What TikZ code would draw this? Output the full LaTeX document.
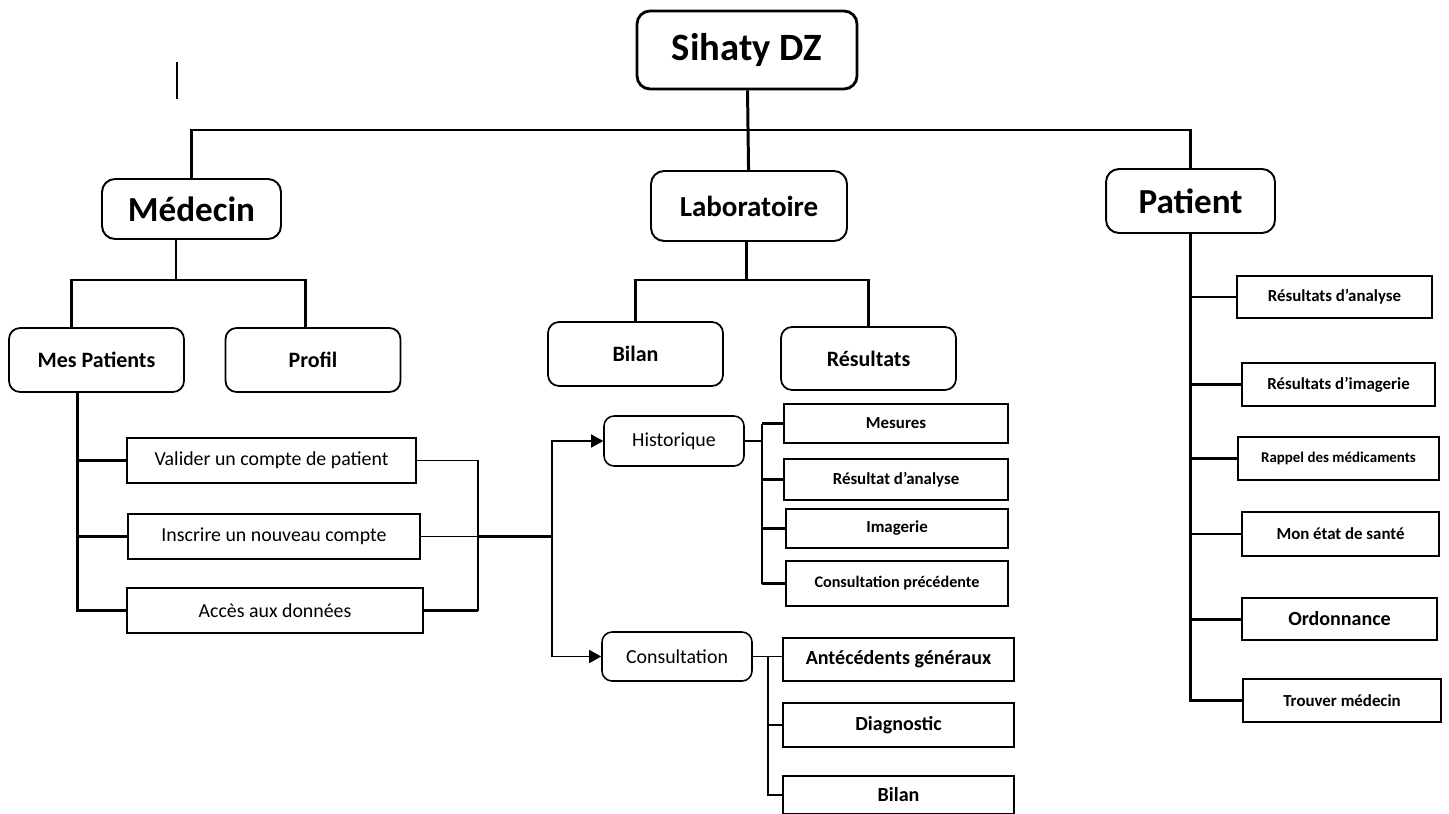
\documentclass[tikz,border=0pt]{standalone}
\usepackage{fontspec}
\setmainfont{Carlito}
\usetikzlibrary{positioning,arrows.meta}

\begin{document}
\begin{tikzpicture}[x=0.02cm,y=-0.02cm,
      root/.style={draw,line width=1.6pt,rounded corners=0.26cm,inner sep=0pt,font=\bfseries\fontsize{22}{26}\selectfont},
      role/.style={draw,line width=1.1pt,rounded corners=0.26cm,inner sep=0pt,font=\bfseries\fontsize{20}{24}\selectfont},
      menu/.style={draw,line width=1pt,rounded corners=0.22cm,inner sep=0pt,minimum width=3.5cm,minimum height=1.28cm,font=\bfseries\fontsize{12.5}{15}\selectfont},
      item/.style={draw,line width=0.9pt,inner sep=0pt,font=\fontsize{11.3}{13}\selectfont},
      sub/.style={draw,line width=1pt,inner sep=0pt,font=\bfseries\fontsize{9.6}{11}\selectfont},
      trunk/.style={line width=1.7pt},
      wire/.style={line width=0.8pt}]
      \useasboundingbox (0,0) rectangle (1449,814);
      % top levels
      \node[root,minimum width=4.4cm,minimum height=1.56cm] (top) at (747,50) {Sihaty DZ};
      \node[role,minimum width=3.58cm,minimum height=1.2cm] (med) at (191.5,209) {Médecin};
      \node[role,minimum width=3.92cm,minimum height=1.4cm,font=\bfseries\fontsize{16.5}{20}\selectfont] (lab) at (749,206) {Laboratoire};
      \node[role,minimum width=3.38cm,minimum height=1.28cm] (pat) at (1190.5,201) {Patient};
      \node[menu] (mesp) at (96.5,360) {Mes Patients};
      \node[menu] (prof) at (313,360) {Profil};
      \node[menu] (bil) at (635.5,354) {Bilan};
      \node[menu,minimum height=1.26cm] (res) at (868.5,358.5) {Résultats};
      % medecin
      \node[item,minimum width=5.78cm,minimum height=0.9cm] (val) at (271.5,460.5) {Valider un compte de patient};
      \node[item,minimum width=5.84cm,minimum height=0.9cm] (ins) at (274,536.5) {Inscrire un nouveau compte};
      \node[item,minimum width=5.92cm,minimum height=0.9cm] (acc) at (275,610.5) {Accès aux données};
      \node[item,rounded corners=0.2cm,minimum width=2.8cm,minimum height=1cm] (his) at (674,441) {Historique};
      \node[item,rounded corners=0.2cm,minimum width=3cm,minimum height=0.98cm] (cons) at (677,656.5) {Consultation};
      \node[sub,minimum width=4.48cm,minimum height=0.78cm] (mes) at (896,423.5) {Mesures};
      \node[sub,minimum width=4.48cm,minimum height=0.82cm] (rda) at (896,479.5) {Résultat d’analyse};
      \node[sub,minimum width=4.44cm,minimum height=0.78cm] (img) at (897,528.5) {Imagerie};
      \node[sub,minimum width=4.44cm,minimum height=0.9cm,font=\bfseries\fontsize{9.2}{11}\selectfont] (cpr) at (897,583.5) {Consultation précédente};
      \node[sub,minimum width=4.62cm,minimum height=0.86cm,font=\bfseries\fontsize{11.4}{14}\selectfont] (ant) at (898.5,659.5) {Antécédents généraux};
      \node[sub,minimum width=4.62cm,minimum height=0.88cm,font=\bfseries\fontsize{11.4}{14}\selectfont] (dia) at (898.5,725) {Diagnostic};
      \node[sub,minimum width=4.62cm,minimum height=0.76cm,font=\bfseries\fontsize{11.4}{14}\selectfont] (cbil) at (898.5,795) {Bilan};
      % patient
      \node[sub,minimum width=3.9cm,minimum height=0.84cm] (pra) at (1334.5,297) {Résultats d’analyse};
      \node[sub,minimum width=3.86cm,minimum height=0.86cm] (pri) at (1338.5,384.5) {Résultats d’imagerie};
      \node[sub,minimum width=4.02cm,minimum height=0.86cm,font=\bfseries\fontsize{8.5}{10}\selectfont] (prm) at (1338.5,458.5) {Rappel des médicaments};
      \node[sub,minimum width=3.94cm,minimum height=0.88cm] (pet) at (1340.5,534) {Mon état de santé};
      \node[sub,minimum width=3.9cm,minimum height=0.84cm,font=\bfseries\fontsize{11.4}{14}\selectfont] (pord) at (1339.5,619) {Ordonnance};
      \node[sub,minimum width=3.96cm,minimum height=0.86cm] (ptm) at (1342,700.5) {Trouver médecin};
      \draw[line width=1.3pt] (177,62) -- (177,99);
      % connectors
      \coordinate (bar) at (745,130);
      \coordinate (mbar) at (176,280);
      \coordinate (lbar) at (746,280);
      \coordinate (mpt) at (77.5,392);
      \coordinate (brk) at (478,536.5);
      \coordinate (join) at (552,536.5);
      \coordinate (hj) at (762,441);
      \coordinate (cj) at (768,656.5);
      \draw[trunk] (top) -- (lab);
      \draw[trunk] (med.north) |- (bar) -| (pat.north);
      \draw[trunk] (med.south -| mbar) -- (mbar);
      \draw[trunk] ([xshift=-0.5cm]mesp.north) |- (mbar) -| ([xshift=-0.16cm]prof.north);
      \draw[trunk] (lab.south -| lbar) -- (lbar);
      \draw[trunk] (bil.north) |- (lbar) -| (res.north);
      \draw[trunk] (mpt) |- (acc.west);
      \foreach \n in {val,ins} \draw[trunk] (\n.west -| mpt) -- (\n.west);
      \draw[wire] (val.east) -| (brk |- acc.east);
      \draw[wire] (ins.east) -- (brk);
      \draw[trunk] (brk) -- (join);
      \draw[trunk] (acc.east) -- (acc.east -| brk);
      \draw[wire,-{Triangle[length=0.24cm,width=0.26cm]}] (join) |- (his.west);
      \draw[wire,-{Triangle[length=0.24cm,width=0.26cm]}] (join) |- (cons.west);
      \draw[wire] (his.east) -- (hj);
      \draw[wire,line width=1.1pt] (hj |- mes.west) -- (hj |- cpr.west);
      \foreach \n in {mes,rda,img,cpr} \draw[trunk] (hj |- \n.west) -- (\n.west);
      \draw[wire] (cons.east) -- (cons.east -| ant.west);
      \draw[wire] (cj) |- (cbil.west);
      \draw[wire] (dia.west -| cj) -- (dia.west);
      \draw[trunk] (pat.south) |- (ptm.west);
      \foreach \n in {pra,pri,prm,pet,pord} \draw[trunk] (\n.west -| pat.south) -- (\n.west);
    \end{tikzpicture}
\end{document}
